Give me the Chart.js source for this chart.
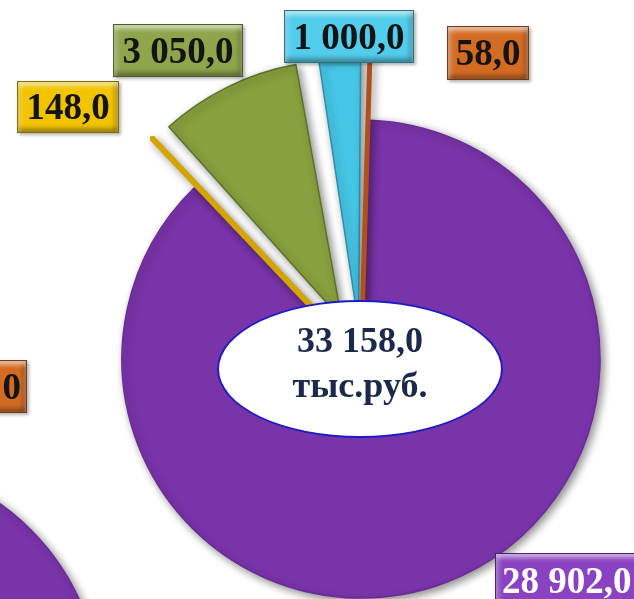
<!DOCTYPE html>
<html lang="ru">
<head>
<meta charset="utf-8">
<script src="https://cdn.jsdelivr.net/npm/chart.js@4/dist/chart.umd.min.js"></script>
<style>
    html, body { margin: 0; padding: 0; background: #fff; }
    #wrap { position: relative; width: 634px; height: 599px; overflow: hidden; }
    #mainChart { position: absolute; left: 0; top: 0; }
    #leftChart { position: absolute; left: -438px; top: 399px; }
    .lbl {
        position: absolute;
        box-sizing: border-box;
        font: bold 37px "Liberation Serif", "Times New Roman", serif;
        color: #141414;
        text-align: center;
        white-space: nowrap;
        border: 1px solid rgba(0, 0, 0, 0.45);
        box-shadow: inset 0 4px 4px rgba(255, 255, 255, 0.55),
                    inset 0 -4px 4px rgba(0, 0, 0, 0.3),
                    inset 4px 0 4px rgba(255, 255, 255, 0.2),
                    inset -4px 0 4px rgba(0, 0, 0, 0.2),
                    2px 2px 3px rgba(0, 0, 0, 0.3);
    }
    #centre {
        position: absolute;
        left: 217px; top: 300px; width: 286px; height: 138px;
        box-sizing: border-box;
        border: 2px solid #1d1dc4;
        border-radius: 50%;
        background: #fff;
        color: #1b2a4c;
        font: bold 36px "Liberation Serif", "Times New Roman", serif;
        text-align: center;
        line-height: 45px;
        padding-top: 16px;
    }
</style>
</head>
<body>
<div id="wrap">
    <canvas id="leftChart" width="600" height="600"></canvas>
    <canvas id="mainChart" width="634" height="599"></canvas>
    <div id="centre"></div>
</div>
<script>
// Структура, тыс.руб.
const categories = ['Сектор 1', 'Сектор 2', 'Сектор 3', 'Сектор 4', 'Сектор 5'];
const values = [28902.0, 148.0, 3050.0, 1000.0, 58.0];
const colors = ['#7a34aa', '#e8b600', '#88a03e', '#47c7e7', '#c95e1b'];
const edgeColors = ['#6a2a98', '#d4a400', '#5d7228', '#2a8fb0', '#b0501a'];
const labelColors = ['#8a42c2', '#f2c400', '#8ea54c', '#52cdec', '#d46b22'];
const unit = 'тыс.руб.';

// second diagram, cut off by the frame: only the edge of its purple sector shows
const leftValues = [100];
const leftColors = ['#7a34aa'];
const leftCutLabel = '0';

const fmt = (v) => v.toFixed(1).replace('.', ',').replace(/\B(?=(\d{3})+(?!\d))/g, '\u00a0');

// label boxes: left, top, width, height
const labelBoxes = [
    [495, 553, 150, 56],
    [17, 81, 102, 52],
    [113, 24, 130, 53],
    [284, 10, 130, 53],
    [447, 26, 82, 54]
];

const shadow = {
    id: 'shadow',
    beforeDatasetsDraw(chart) {
        const ctx = chart.ctx;
        ctx.save();
        ctx.shadowColor = 'rgba(0, 0, 0, 0.45)';
        ctx.shadowBlur = 8;
        ctx.shadowOffsetX = 3;
        ctx.shadowOffsetY = 3;
    },
    afterDatasetsDraw(chart) {
        chart.ctx.restore();
    }
};

new Chart(document.getElementById('mainChart'), {
    type: 'pie',
    data: {
        labels: categories,
        datasets: [{
            data: values,
            backgroundColor: colors,
            borderColor: edgeColors,
            borderWidth: [1.5, 6, 1.5, 1.5, 5],
            // chart.js scales the shift by slice width, so wider slices need more
            offset: [0, 132, 176, 136, 126],
            clip: false
        }]
    },
    options: {
        responsive: false,
        animation: false,
        events: [],
        rotation: 2,
        radius: 239,
        layout: { padding: { left: 88, top: 119, right: 0, bottom: 0 } },
        plugins: {
            legend: { display: false },
            tooltip: { enabled: false }
        }
    },
    plugins: [shadow]
});

new Chart(document.getElementById('leftChart'), {
    type: 'pie',
    data: {
        labels: ['left'],
        datasets: [{
            data: leftValues,
            backgroundColor: leftColors,
            borderColor: '#6a2a98',
            borderWidth: 1.5,
            clip: false
        }]
    },
    options: {
        responsive: false,
        animation: false,
        events: [],
        radius: 239,
        plugins: {
            legend: { display: false },
            tooltip: { enabled: false }
        }
    },
    plugins: [shadow]
});

// value labels
const wrap = document.getElementById('wrap');
values.forEach((v, i) => {
    const [l, t, w, h] = labelBoxes[i];
    const d = document.createElement('div');
    d.className = 'lbl';
    d.textContent = fmt(v);
    Object.assign(d.style, {
        left: l + 'px', top: t + 'px', width: w + 'px', height: h + 'px',
        lineHeight: (h - 2) + 'px',
        background: labelColors[i]
    });
    if (i === 0) {
        d.style.color = '#fff';
        d.style.textAlign = 'left';
        d.style.paddingLeft = '6px';
    }
    wrap.appendChild(d);
});

// label of the cut-off diagram
const cut = document.createElement('div');
cut.className = 'lbl';
cut.textContent = leftCutLabel;
Object.assign(cut.style, {
    left: '-40px', top: '360px', width: '67px', height: '53px',
    lineHeight: '51px', textAlign: 'right', paddingRight: '5px',
    background: labelColors[4]
});
wrap.appendChild(cut);

// total in the centre
const total = values.reduce((a, b) => a + b, 0);
document.getElementById('centre').innerHTML = fmt(total) + '<br>' + unit;
</script>
</body>
</html>
